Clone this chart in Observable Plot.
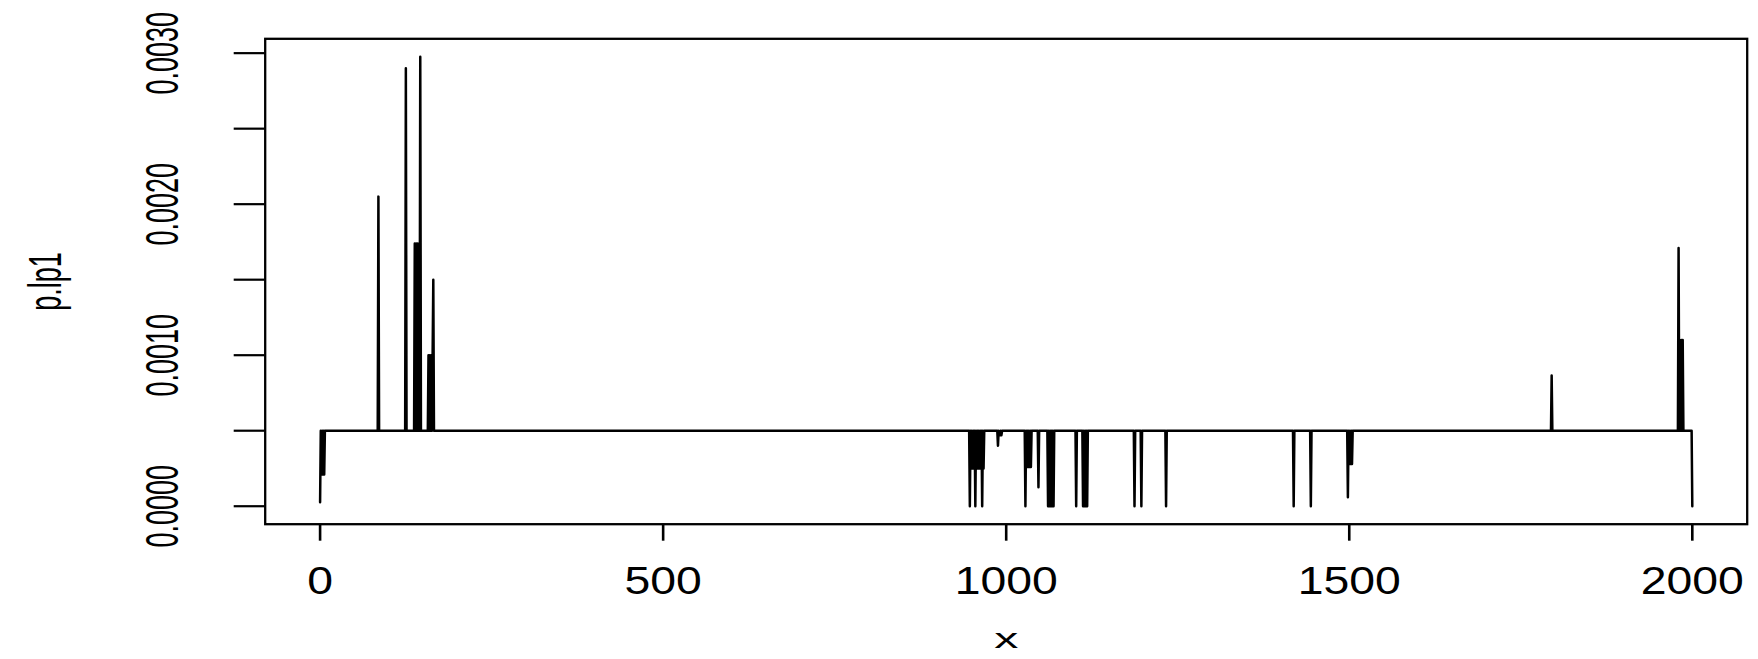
<!DOCTYPE html>
<html>
<head>
<meta charset="utf-8">
<script src="https://cdn.jsdelivr.net/npm/d3@7"></script>
<script src="https://cdn.jsdelivr.net/npm/@observablehq/plot@0.6"></script>
<style>
  html, body { margin: 0; padding: 0; background: #fff; }
  #chart svg { display: block; }
</style>
</head>
<body>
<div id="chart"></div>
<script>
// x positions where the series departs from / returns to its plateau
const xValues = [
  0, 1, 2, 3, 4, 5, 6, 7,
  84, 85, 86,
  124, 125, 126,
  137, 138, 139, 140, 141, 142, 143, 144, 145, 146, 147,
  157, 158, 159, 160, 161, 162, 163, 164, 165, 166,
  946, 947, 948, 949, 950, 951, 952, 953, 954, 955, 956, 957, 958, 959, 960, 961, 962, 963, 964, 965, 966, 967, 968,
  987, 988, 989, 991, 992, 993, 994,
  1027, 1028, 1029, 1030, 1031, 1032, 1033, 1034, 1035, 1036, 1037,
  1046, 1047, 1048,
  1060, 1061, 1062, 1063, 1064, 1065, 1066, 1067, 1068, 1069, 1070,
  1101, 1102, 1103,
  1111, 1112, 1113, 1114, 1115, 1116, 1117, 1118, 1119,
  1186, 1187, 1188,
  1196, 1197, 1198,
  1232, 1233, 1234,
  1418, 1419, 1420,
  1443, 1444, 1445,
  1497, 1498, 1499, 1500, 1501, 1502, 1503, 1504, 1505,
  1794, 1795, 1796,
  1979, 1980, 1981, 1982, 1983, 1984, 1985, 1986, 1987,
  1999, 2000
];
// p.lp1 values at those x positions
const pValues = [
  0.000026, 0.0005, 0.00021, 0.0005, 0.00021, 0.0005, 0.00021, 0.0005,
  0.0005, 0.00205, 0.0005,
  0.0005, 0.0029, 0.0005,
  0.0005, 0.00174, 0.0005, 0.00174, 0.0005, 0.00174, 0.0005, 0.00174, 0.0005, 0.002976, 0.0005,
  0.0005, 0.001, 0.0005, 0.001, 0.0005, 0.001, 0.0005, 0.001, 0.0015, 0.0005,
  0.0005, 0, 0.0005, 0.00025, 0.0005, 0.00025, 0.0005, 0.00025, 0.0005, 0, 0.0005, 0.00025, 0.0005, 0.00025, 0.0005, 0.00025, 0.0005, 0.00025, 0.0005, 0, 0.0005, 0.00025, 0.0005,
  0.0005, 0.0004, 0.0005, 0.00047, 0.0005, 0.00047, 0.0005,
  0.0005, 0, 0.0005, 0.00026, 0.0005, 0.00026, 0.0005, 0.00026, 0.0005, 0.00026, 0.0005,
  0.0005, 0.000125, 0.0005,
  0.0005, 0, 0.0005, 0, 0.0005, 0, 0.0005, 0, 0.0005, 0, 0.0005,
  0.0005, 0, 0.0005,
  0.0005, 0, 0.0005, 0, 0.0005, 0, 0.0005, 0, 0.0005,
  0.0005, 0, 0.0005,
  0.0005, 0, 0.0005,
  0.0005, 0, 0.0005,
  0.0005, 0, 0.0005,
  0.0005, 0, 0.0005,
  0.0005, 0.00006, 0.0005, 0.00028, 0.0005, 0.00028, 0.0005, 0.00028, 0.0005,
  0.0005, 0.000865, 0.0005,
  0.0005, 0.00171, 0.0005, 0.0011, 0.0005, 0.0011, 0.0005, 0.0011, 0.0005,
  0.0005, 0
];
const xTicks = [0, 500, 1000, 1500, 2000];
const xTickLabels = ["0", "500", "1000", "1500", "2000"];
const yTicks = [0, 0.0005, 0.001, 0.0015, 0.002, 0.0025, 0.003];
const yTickLabels = ["0.0000", "", "0.0010", "", "0.0020", "", "0.0030"];
const xTitle = "x";
const yTitle = "p.lp1";

const data = xValues.map((x, i) => ({x, p: pValues[i]}));

// R-style 4% padding around the data range
const xExt = d3.extent(xValues), yExt = d3.extent(pValues);
const xPad = (xExt[1] - xExt[0]) * 0.04, yPad = (yExt[1] - yExt[0]) * 0.04;

const FONT = 27;
const chart = Plot.plot({
  width: 1758,
  height: 659,
  marginLeft: 264.7,
  marginRight: 11.3,
  marginTop: 38.3,
  marginBottom: 135.3,
  style: {fontFamily: "'Liberation Sans', Arial, sans-serif", fontSize: FONT + "px", color: "black", background: "white"},
  x: {domain: [xExt[0] - xPad, xExt[1] + xPad]},
  y: {domain: [yExt[0] - yPad, yExt[1] + yPad]},
  marks: [
    Plot.line(data, {x: "x", y: "p", stroke: "black", strokeWidth: 2.5, curve: "linear"}),
    Plot.frame({stroke: "black", strokeWidth: 2.3}),
    Plot.axisX(xTicks, {
      tickSize: 17, tickPadding: 40.3, strokeWidth: 2.6, lineAnchor: "middle",
      fontSize: 38, tickFormat: d => xTickLabels[xTicks.indexOf(d)], label: null
    }),
    Plot.axisY(yTicks, {
      tickSize: 31, tickPadding: 71, strokeWidth: 2.2, tickRotate: -90,
      textAnchor: "middle", lineAnchor: "middle",
      fontSize: FONT, tickFormat: d => yTickLabels[yTicks.indexOf(d)], label: null
    }),
    Plot.text([xTitle], {frameAnchor: "bottom", dy: 115, text: d => d, fontSize: 28, lineAnchor: "middle"}),
    Plot.text([yTitle], {frameAnchor: "left", dx: -219.7, rotate: -90, text: d => d, fontSize: FONT, lineAnchor: "middle", textAnchor: "middle"})
  ]
});
document.getElementById("chart").append(chart);

// The reference image is stretched horizontally: widen text about its centre
const xLabelNodes = new Set(chart.querySelectorAll('g[aria-label="x-axis tick label"] text'));
chart.querySelectorAll("text").forEach(t => {
  const sx = xLabelNodes.has(t) ? 1.22 : 1.72;
  const r = t.getBoundingClientRect();
  if (!r.width) return;
  const parent = t.parentNode;
  let pt = chart.createSVGPoint();
  pt.x = r.left + r.width / 2;
  pt.y = r.top + r.height / 2;
  pt = pt.matrixTransform(parent.getScreenCTM().inverse());
  const g = document.createElementNS("http://www.w3.org/2000/svg", "g");
  g.setAttribute("transform", `translate(${pt.x},${pt.y}) scale(${sx},1) translate(${-pt.x},${-pt.y})`);
  parent.insertBefore(g, t);
  g.appendChild(t);
});
</script>
</body>
</html>
